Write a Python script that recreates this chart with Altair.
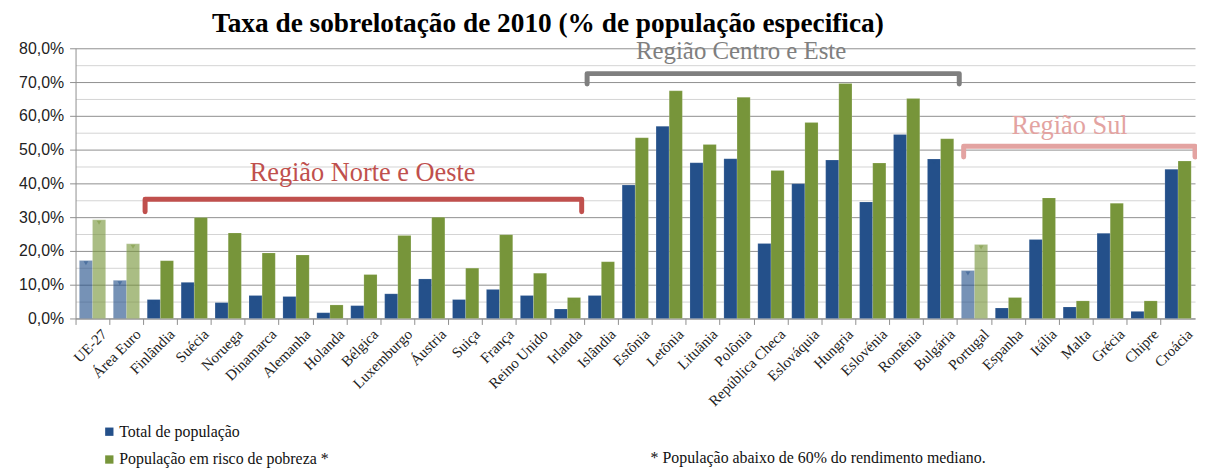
import altair as alt
import pandas as pd

countries = ["UE-27", "Área Euro", "Finlândia", "Suécia", "Noruega", "Dinamarca",
             "Alemanha", "Holanda", "Bélgica", "Luxemburgo", "Áustria", "Suiça",
             "França", "Reino Unido", "Irlanda", "Islândia", "Estônia", "Letônia",
             "Lituânia", "Polônia", "República Checa", "Eslováquia", "Hungria",
             "Eslovénia", "Romênia", "Bulgária", "Portugal", "Espanha", "Itália",
             "Malta", "Grécia", "Chipre", "Croácia"]
total = [17.2, 11.3, 5.6, 10.7, 4.7, 6.8, 6.5, 1.7, 3.8, 7.3, 11.7, 5.6, 8.6, 6.8,
         2.8, 6.8, 39.5, 56.9, 46.1, 47.3, 22.2, 39.9, 46.9, 34.5, 54.5, 47.2,
         14.2, 3.1, 23.4, 3.4, 25.2, 2.1, 44.2]
risco = [29.2, 22.1, 17.1, 29.9, 25.3, 19.4, 18.8, 4.0, 13.0, 24.6, 30.0, 14.9,
         24.8, 13.4, 6.2, 16.8, 53.5, 67.4, 51.5, 65.5, 43.8, 58.0, 69.6, 46.0,
         65.1, 53.2, 21.9, 6.2, 35.7, 5.2, 34.1, 5.2, 46.6]
faded = ["UE-27", "Área Euro", "Portugal"]
series = ["Total de população", "População em risco de pobreza *"]
colors = ["#24508a", "#77953a"]

# region brackets (x in category-index units, y in %)
reg_names = ["Região Norte e Oeste", "Região Centro e Este", "Região Sul"]
reg_x0 = [2.05, 15.08, 26.18]
reg_x1 = [14.92, 26.05, 33.0]
reg_top = [35.3, 72.5, 51.0]
reg_bot = [31.6, 69.4, 47.8]
reg_text_x = [8.46, 19.62, 29.3]
reg_text_y = [43.0, 79.2, 57.1]
reg_text_size = [26.5, 25, 26.5]
reg_line_col = ["#c0504d", "#7f7f7f", "#e3a3a1"]
reg_text_col = ["#c00000", "#808080", "#e39a99"]

rows = []
for i, c in enumerate(countries):
    rows.append({"pais": c, "serie": series[0], "valor": total[i], "faded": c in faded})
    rows.append({"pais": c, "serie": series[1], "valor": risco[i], "faded": c in faded})
df = pd.DataFrame(rows)

br = []
for k, n in enumerate(reg_names):
    for j, (xx, yy) in enumerate([(reg_x0[k], reg_bot[k]), (reg_x0[k], reg_top[k]),
                                  (reg_x1[k], reg_top[k]), (reg_x1[k], reg_bot[k])]):
        br.append({"reg": n, "o": j, "x": xx, "y": yy})
brdf = pd.DataFrame(br)
txdf = pd.DataFrame({"reg": reg_names, "x": reg_text_x, "y": reg_text_y, "fs": reg_text_size})
notedf = pd.DataFrame({"t": ["* População abaixo de 60% do rendimento mediano."],
                       "x": [16.95], "y": [-41.4]})

yscale = alt.Scale(domain=[0, 80], nice=False)
major = "datum.value % 10 === 0"

yaxis = alt.Axis(
    values=list(range(0, 81, 5)),
    labelExpr="datum.value % 10 === 0 ? replace(format(datum.value, '.1f'), '.', ',') + '%' : ''",
    labelOverlap=False,
    labelFont="Liberation Sans", labelFontSize=16, labelColor="#222",
    labelPadding=6,
    gridColor={"condition": {"test": major, "value": "#8f8f8f"}, "value": "#d4d4d4"},
    tickColor={"condition": {"test": major, "value": "#8f8f8f"}, "value": "transparent"},
    tickSize=6, domainColor="#8f8f8f", title=None,
)

xaxis = alt.Axis(
    title=None, labelAngle=-45, labelFont="Liberation Serif", labelFontSize=15,
    labelColor="#222", bandPosition=0, labelOffset=7, tickSize=6,
    tickColor="#8f8f8f", domainColor="#8f8f8f", grid=False, labelPadding=2,
)

Y = alt.Y("valor:Q", scale=yscale, axis=yaxis)

xs = alt.X("pais:N", sort=countries, axis=xaxis,
           scale=alt.Scale(paddingInner=0, paddingOuter=0))
xo = alt.XOffset("serie:N", sort=series,
                 scale=alt.Scale(paddingInner=0, paddingOuter=0.29))

bars = alt.Chart(df).mark_bar(stroke="#ffffff", strokeOpacity=0.25, strokeWidth=0.6).encode(
    x=xs, xOffset=xo, y=Y,
    color=alt.Color("serie:N", sort=series,
                    scale=alt.Scale(domain=series, range=colors),
                    legend=alt.Legend(title=None, orient="none", legendX=26, legendY=378,
                                      symbolType="square", symbolSize=70,
                                      labelFont="Liberation Serif", labelFontSize=16,
                                      labelColor="#111", rowPadding=12, labelLimit=500,
                                      labelOffset=2, symbolStrokeWidth=0)),
    opacity=alt.condition("datum.faded", alt.value(0.62), alt.value(1.0)),
)

caps = alt.Chart(df).mark_point(shape="triangle-down", filled=True, size=22, yOffset=3).encode(
    x=xs, xOffset=xo, y=Y,
    color=alt.Color("serie:N", sort=series,
                    scale=alt.Scale(domain=series, range=["#6f9fd8", "#b9d86a"]),
                    legend=None),
    opacity=alt.condition("datum.faded", alt.value(0.5), alt.value(0.9)),
)

xq = alt.Scale(domain=[0, 33], nice=False, zero=False)
Yq = alt.Y("y:Q", scale=yscale, axis=yaxis)

brackets = alt.Chart(brdf).mark_line(strokeWidth=5, strokeCap="round", strokeJoin="round").encode(
    x=alt.X("x:Q", scale=xq, axis=None), y=Yq,
    detail="reg:N", order="o:Q",
    color=alt.Color("reg:N", scale=alt.Scale(domain=reg_names, range=reg_line_col), legend=None),
)

labels = alt.Chart(txdf).mark_text(font="Liberation Serif", baseline="middle").encode(
    x=alt.X("x:Q", scale=xq, axis=None), y=Yq,
    text="reg:N",
    size=alt.Size("fs:Q", scale=None, legend=None),
    color=alt.Color("reg:N", scale=alt.Scale(domain=reg_names, range=reg_text_col), legend=None),
)

note = alt.Chart(notedf).mark_text(font="Liberation Serif", fontSize=16, align="left",
                                   baseline="middle", color="#111").encode(
    x=alt.X("x:Q", scale=xq, axis=None), y=Yq,
    text="t:N",
)

annot = alt.layer(brackets, labels, note)

chart = alt.layer(alt.layer(bars, caps), annot).resolve_scale(
    x="independent", color="independent", size="independent"
).properties(
    width=1127, height=272,
    padding={"left": 68, "top": 39, "right": 2, "bottom": 151},
    autosize=alt.AutoSizeParams(type="none"),
    title=alt.TitleParams(
        "Taxa de sobrelotação de 2010 (% de população especifica)",
        font="Liberation Serif", fontSize=27.5, fontWeight="bold", color="#000",
        anchor="middle", dx=-88, offset=2,
    ),
).configure_view(stroke=None).configure_axisY(labelOverlap=False)

chart.save("out.html", embed_options={"renderer": "svg", "actions": False})
